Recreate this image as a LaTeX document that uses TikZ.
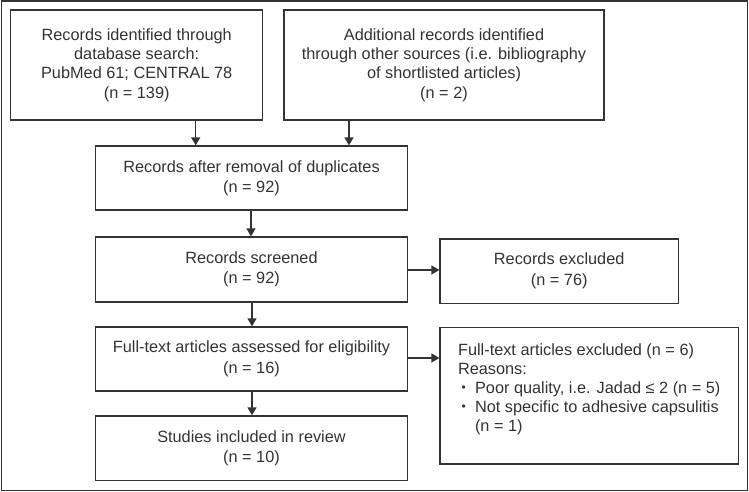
\documentclass[tikz,border=0pt]{standalone}
\usepackage{fontspec}
\setmainfont{Liberation Sans}
\usetikzlibrary{arrows.meta}
\definecolor{ink}{HTML}{333333}
\newcommand\bul{\hspace*{3.5pt}\makebox[13.5pt][l]{\raisebox{1.6pt}{\fontsize{12}{12}\selectfont •}}}
\tikzset{
  box/.style={draw=ink, line width=1.3pt, inner sep=0pt, align=center, text=ink,
    font=\fontsize{16.3}{19.6}\selectfont, execute at begin node={\rule{0pt}{16pt}}},
  arr/.style={draw=ink, line width=1.5pt, -{Triangle[length=8pt,width=9pt]}}
}
\begin{document}
\begin{tikzpicture}[x=1pt,y=-1pt]
\useasboundingbox (0,0) rectangle (749,492);
\node[draw=ink, line width=1.3pt, minimum width=746pt, minimum height=489.5pt, inner sep=0pt] (frame) at (374.3,245.8) {};
\node[box, minimum width=252pt, minimum height=110pt, font=\fontsize{16.3}{19.4}\selectfont] (A) at (136.7,65)
  {Records identified through\\database search:\\PubMed 61; CENTRAL 78\\(n = 139)};
\node[box, minimum width=320pt, minimum height=110pt, font=\fontsize{16.3}{19.4}\selectfont] (B) at (444,65)
  {Additional records identified\\through other sources (i.e. bibliography\\of shortlisted articles)\\(n = 2)};
\node[box, minimum width=311.5pt, minimum height=64pt, font=\fontsize{16.3}{20.3}\selectfont] (C) at (251.5,178)
  {Records after removal of duplicates\\(n = 92)};
\node[box, minimum width=311.5pt, minimum height=65pt, font=\fontsize{16.3}{20.5}\selectfont] (D) at (251.5,269.5)
  {Records screened\\(n = 92)};
\node[box, minimum width=238.3pt, minimum height=64.3pt, font=\fontsize{16.3}{20.5}\selectfont] (E) at (559.2,271)
  {Records excluded\\(n = 76)};
\node[box, minimum width=298.3pt, minimum height=136.7pt, align=left, font=\fontsize{16.3}{19}\selectfont] (G) at (589.2,395.7)
  {Full-text articles excluded (n = 6)\\
   Reasons:\\
   \bul Poor quality, i.e. Jadad ≤ 2 (n = 5)\\
   \bul Not specific to adhesive capsulitis\\
   \hspace*{17pt}(n = 1)\\[-2.2pt]\mbox{}};
\node[box, minimum width=311.5pt, minimum height=64pt, font=\fontsize{16.3}{20.5}\selectfont] (F) at (251.5,359)
  {Full-text articles assessed for eligibility\\(n = 16)};
\node[box, minimum width=311.5pt, minimum height=64.7pt, font=\fontsize{16.3}{19.8}\selectfont] (H) at (251.5,448.3)
  {Studies included in review\\(n = 10)};
\draw[arr] (A.south -| 195.7,0) -- (C.north -| 195.7,0);
\draw[arr] (B.south -| 349,0) -- (C.north -| 349,0);
\draw[arr] (C.south -| 251,0) -- (D.north -| 251,0);
\draw[arr] (D.south -| 252,0) -- (F.north -| 252,0);
\draw[arr] (F.south -| 252,0) -- (H.north -| 252,0);
\draw[arr] (D.east |- 0,270) -- (E.west |- 0,270);
\draw[arr] (F.east |- 0,358) -- (G.west |- 0,358);
\end{tikzpicture}
\end{document}
